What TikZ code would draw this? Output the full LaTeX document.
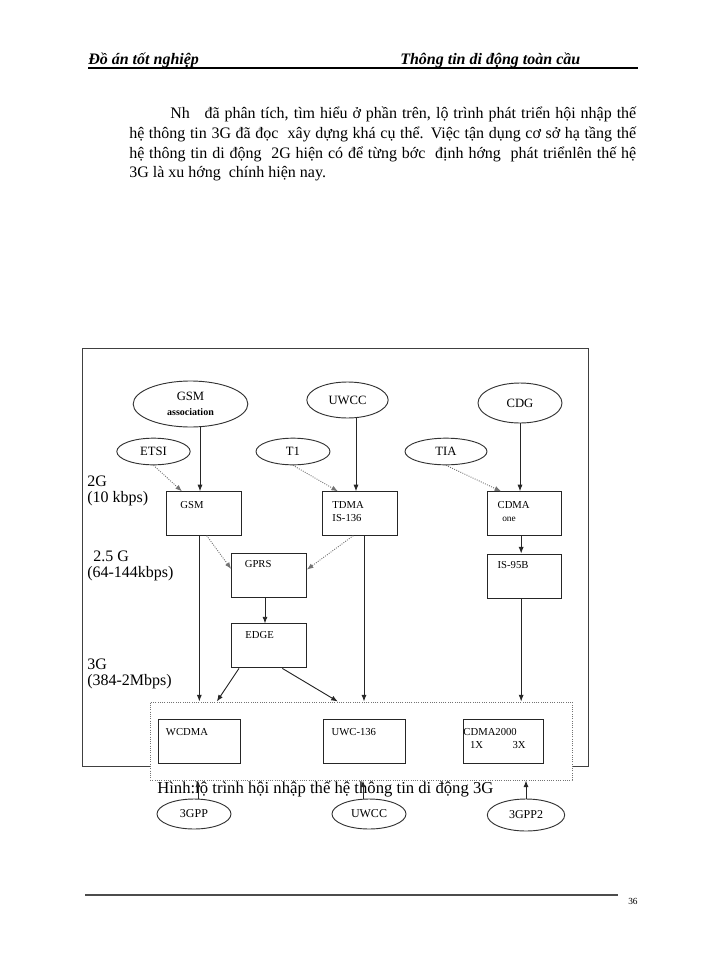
\documentclass[tikz,border=0pt]{standalone}
\usepackage{fontspec}
\setmainfont{Liberation Serif}
\usetikzlibrary{shapes.geometric,positioning,calc,arrows.meta}

\begin{document}
\begin{tikzpicture}[x=0.75pt,y=-0.75pt,>={Latex[length=5pt,width=3.8pt]}]
	\tikzstyle{every node}=[inner sep=0pt]
	\tikzstyle{org}=[draw=black!80, line width=0.7pt, ellipse, align=center, font=\fontsize{9.5}{10}\selectfont]
	\tikzstyle{sys}=[draw=black!85, line width=0.7pt, minimum width=56pt, minimum height=32.5pt]
	\tikzstyle{tag}=[anchor=north west, align=left, yshift=-7pt, font=\fontsize{8}{9.75}\selectfont]
	\tikzstyle{gen}=[anchor=west, align=left, font=\fontsize{12}{12}\selectfont]
	\tikzstyle{txt}=[anchor=base west, font=\fontsize{12}{15}\selectfont]
	\tikzstyle{arr}=[->, draw=black!85, line width=0.7pt]
	\tikzstyle{hint}=[->, densely dotted, draw=black!55, line width=0.7pt]

	\useasboundingbox (0,0) rectangle (700,960);

	% page head
	\node[txt, font=\fontsize{12}{14}\selectfont\bfseries\itshape] (head) at (88,64) {Đồ án tốt nghiệp};
	\node[txt, font=\fontsize{12}{14}\selectfont\bfseries\itshape] (title) at (400,64) {Thông tin di động toàn cầu};
	\draw[line width=0.8pt] (88,68) -- (638,68);

	% paragraph
	\node[txt] (p1) at (170,118) {\makebox[349.5pt][s]{Nh\ \ \ đã phân tích, tìm hiểu ở phần trên, lộ trình phát triển hội nhập thế}};
	\node[txt] (p2) at (129,138) {\makebox[380.25pt][s]{hệ thông tin 3G đã đọc\ \ xây dựng khá cụ thể. Việc tận dụng cơ sở hạ tầng thế}};
	\node[txt] (p3) at (129,158) {\makebox[380.25pt][s]{hệ thông tin di động\ \ 2G hiện có để từng bớc\ \ định hớng\ \ phát triểnlên thế hệ}};
	\node[txt] (p4) at (129,177) {3G là xu hớng\ \ chính hiện nay.};

	% diagram
	\node[draw=black!75, line width=0.7pt, minimum width=379.5pt, minimum height=313.5pt] (frame) at (335,557) {};
	\node[draw=black!55, densely dotted, line width=0.7pt, fill=white, minimum width=316.5pt, minimum height=58.5pt] (g3) at (361,741) {};

	\node[org, minimum width=86pt, minimum height=34.5pt] (gsma) at (190.5,404) {GSM\\[1pt]{\fontsize{7.5}{9}\selectfont\bfseries association}};
	\node[org, minimum width=61pt, minimum height=27pt] (uwcc) at (347.5,400) {UWCC};
	\node[org, minimum width=63pt, minimum height=30pt] (cdg) at (520,403) {CDG};
	\node[org, minimum width=55pt, minimum height=20pt] (etsi) at (153.5,451.5) {ETSI};
	\node[org, minimum width=55.5pt, minimum height=20pt] (tone) at (293,451.5) {T1};
	\node[org, minimum width=61.5pt, minimum height=20pt] (tia) at (446,451.5) {TIA};

	\node[gen] (gtwo) at (87,490.5) {2G\\(10 kbps)};
	\node[gen] (ghalf) at (87,565.5) {\hspace*{4.5pt}2.5 G\\(64-144kbps)};
	\node[gen] (gthree) at (87,673.5) {3G\\(384-2Mbps)};

	\node[sys, label={[tag, xshift=10.5pt]north west:GSM}] (gsm) at (204,513.5) {};
	\node[sys, label={[tag, xshift=7.5pt]north west:TDMA\\IS-136}] (tdma) at (360,513.5) {};
	\node[sys, label={[tag, xshift=8pt]north west:CDMA\\{\fontsize{7}{8}\selectfont\hspace*{3.5pt}one}}] (cdma) at (524.5,513.5) {};
	\node[sys, minimum height=33pt, label={[tag, xshift=10pt, yshift=1pt]north west:GPRS}] (gprs) at (269,575) {};
	\node[sys, minimum height=33pt, below=13.5pt of cdma, label={[tag, xshift=8pt, yshift=1pt]north west:IS-95B}] (isb) {};
	\node[sys, minimum height=33pt, below=19.5pt of gprs, label={[tag, xshift=10.5pt, yshift=1pt]north west:EDGE}] (edge) {};

	\node[sys, minimum width=62pt, minimum height=33pt, label={[tag, xshift=6pt]north west:WCDMA}] (wcdma) at (199.5,741) {};
	\node[sys, minimum width=62pt, minimum height=33pt, label={[tag, xshift=6.5pt]north west:UWC-136}] (uwc) at (364.5,741) {};
	\node[sys, minimum width=60pt, minimum height=33pt, label={[tag, xshift=0.5pt]north west:CDMA2000\\\hspace*{5pt}1X\hspace{22pt}3X}] (cdmab) at (503,741) {};

	\node[txt, font=\fontsize{12.5}{14}\selectfont] (caption) at (157,793) {Hình:lộ trình hội nhập thế hệ thông tin di động 3G};

	\node[org, font=\fontsize{9}{10}\selectfont, minimum width=55.5pt, minimum height=22.5pt] (gpp) at (194,814) {3GPP};
	\node[org, font=\fontsize{9}{10}\selectfont, minimum width=55.5pt, minimum height=22.5pt] (uwccb) at (369,814) {UWCC};
	\node[org, font=\fontsize{9}{10}\selectfont, minimum width=58pt, minimum height=24pt] (gpptwo) at (526,815) {3GPP2};

	% 2G
	\draw[arr] ([xshift=-3pt]gsm.north |- gsma.south) -- ([xshift=-3pt]gsm.north);
	\draw[arr] ([xshift=-3pt]tdma.north |- uwcc.south) -- ([xshift=-3pt]tdma.north);
	\draw[arr] (cdg.south) -- (cdg.south |- cdma.north);
	\draw[hint] (etsi.south) -- ([xshift=-16.5pt]gsm.north);
	\draw[hint] (tone.south) -- ([xshift=-16.5pt]tdma.north);
	\draw[hint] (tia.south) -- ([xshift=-17.5pt]cdma.north);

	% 2.5G
	\draw[hint] ([xshift=2pt]gsm.south) -- ([yshift=4.5pt]gprs.west);
	\draw[hint] ([xshift=-5pt]tdma.south) -- ([yshift=4pt]gprs.east);
	\draw[arr] ([xshift=-2.5pt]cdma.south) -- ([xshift=-2.5pt]isb.north);
	\draw[arr] ([xshift=-3pt]gprs.south) -- ([xshift=-3pt]edge.north);

	% 3G
	\draw[arr] ([xshift=-3.5pt]gsm.south) -- ([xshift=-3.5pt]gsm.south |- g3.north);
	\draw[arr] ([xshift=3pt]tdma.south) -- ([xshift=3pt]tdma.south |- g3.north);
	\draw[arr] ([xshift=-2.5pt]isb.south) -- ([xshift=-2.5pt]isb.south |- g3.north);
	\draw[arr] ([xshift=-22.5pt]edge.south) -- ($(wcdma.north |- g3.north)+(13pt,0)$);
	\draw[arr] ([xshift=10pt]edge.south) -- ($(uwc.north |- g3.north)+(-20pt,0)$);

	\draw[arr] ([xshift=3pt]gpp.north) -- ([xshift=3pt]gpp.north |- g3.south);
	\draw[arr] ([xshift=-4.5pt]uwccb.north) -- ([xshift=-4.5pt]uwccb.north |- g3.south);
	\draw[arr] (gpptwo.north) -- (gpptwo.north |- g3.south);

	% page foot
	\draw[line width=0.8pt, black!70] (85,895) -- (618,895);
	\node[anchor=west, font=\fontsize{7}{8}\selectfont] (page) at (628,901) {36};
\end{tikzpicture}
\end{document}
